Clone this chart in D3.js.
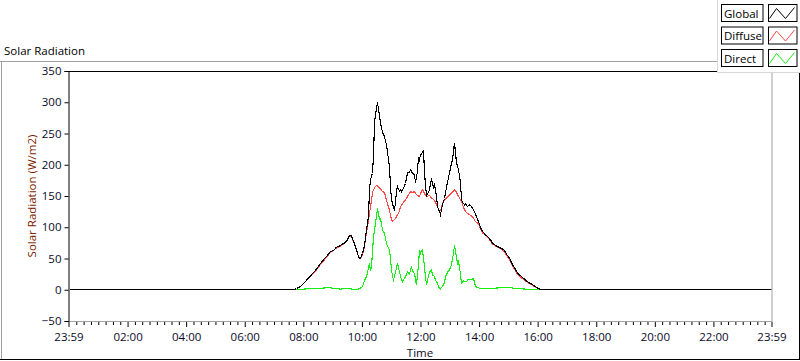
<!DOCTYPE html>
<html><head><meta charset="utf-8">
<script src="https://cdn.jsdelivr.net/npm/d3@7"></script>
<style>
html,body{margin:0;padding:0;background:#fff;}
svg{display:block;}
text{font-family:"Open Sans",sans-serif;}
</style></head>
<body><svg id="c" width="800" height="361"></svg>
<script>
// ---- data ----
const seriesNames = ["Global", "Diffuse", "Direct"];
const yTicks = [-50, 0, 50, 100, 150, 200, 250, 300, 350];
const xTickLabels = ["23:59","02:00","04:00","06:00","08:00","10:00","12:00","14:00","16:00","18:00","20:00","22:00","23:59"];

const globalData = [
 ["00:00",0],["07:38",0],["07:46",2],["07:54",5],["08:04",13],["08:10",19],["08:15",24],["08:21",29],["08:27",35],["08:34",42],["08:42",50],
 ["08:48",55],["08:55",61],["09:01",63],["09:07",68],["09:13",70],["09:19",73],["09:24",75],["09:29",80],["09:33",87],["09:37",86],["09:40",82],
 ["09:46",69],["09:51",53],["09:54",50],["09:57",51],["10:00",58],["10:04",70],["10:07",85],["10:12",117],["10:15",160],["10:16",175],["10:19",182],
 ["10:21",186],["10:22",215],["10:24",266],["10:27",280],["10:29",290],["10:31",300],["10:33",288],["10:35",280],["10:38",266],["10:41",252],["10:45",245],
 ["10:48",238],["10:50",232],["10:52",220],["10:55",197],["10:58",165],["11:00",144],["11:03",132],["11:05",128],["11:08",140],["11:10",158],["11:12",165],
 ["11:15",158],["11:18",160],["11:21",157],["11:25",163],["11:29",170],["11:33",187],["11:36",188],["11:39",192],["11:42",186],["11:46",184],["11:49",171],
 ["11:52",190],["11:54",213],["11:57",208],["12:00",216],["12:03",218],["12:05",224],["12:08",187],["12:10",168],["12:12",150],["12:15",156],["12:17",160],
 ["12:20",170],["12:22",176],["12:25",164],["12:27",168],["12:31",150],["12:34",133],["12:37",125],["12:40",120],["12:43",128],["12:45",136],["12:48",146],
 ["12:51",155],["12:55",172],["12:58",187],["13:01",195],["13:05",208],["13:07",222],["13:09",235],["13:12",203],["13:14",198],["13:16",192],["13:20",171],
 ["13:23",144],["13:26",140],["13:29",136],["13:32",138],["13:36",133],["13:40",136],["13:44",133],["13:49",125],["13:53",117],["13:57",109],["14:02",100],
 ["14:07",93],["14:12",88],["14:17",85],["14:22",80],["14:27",74],["14:32",71],["14:37",69],["14:44",66],["14:51",63],["14:56",57],["15:01",51],["15:06",43],
 ["15:11",35],["15:18",27],["15:25",21],["15:32",17],["15:39",13],["15:46",9],["15:53",6],["16:00",2],["16:06",0],["23:59",0]
];
const diffuseData = [
 ["00:00",0],["07:38",0],["07:46",2],["07:54",5],["08:04",13],["08:10",19],["08:15",23],["08:21",28],["08:27",34],["08:34",41],["08:42",48],
 ["08:48",54],["08:55",60],["09:01",63],["09:07",67],["09:13",69],["09:19",72],["09:24",75],["09:29",80],["09:33",86],["09:37",85],["09:40",81],
 ["09:46",68],["09:51",53],["09:54",50],["09:57",50],["10:00",56],["10:04",68],["10:07",82],["10:10",100],["10:14",122],["10:18",143],["10:21",156],
 ["10:24",163],["10:28",167],["10:31",166],["10:34",163],["10:38",162],["10:41",157],["10:45",156],["10:48",149],["10:52",138],["10:55",127],["10:57",119],
 ["11:00",112],["11:02",109],["11:06",112],["11:10",117],["11:15",126],["11:19",133],["11:25",140],["11:30",146],["11:34",152],["11:39",157],["11:43",156],
 ["11:46",157],["11:51",152],["11:56",149],["12:00",154],["12:04",160],["12:08",154],["12:12",149],["12:17",151],["12:22",147],["12:27",143],["12:32",136],
 ["12:37",125],["12:41",130],["12:45",139],["12:51",145],["12:58",152],["13:04",156],["13:08",160],["13:12",156],["13:15",152],["13:19",147],["13:22",141],
 ["13:27",132],["13:32",125],["13:38",121],["13:45",117],["13:51",109],["13:57",106],["14:02",98],["14:07",91],["14:12",87],["14:17",84],["14:22",78],
 ["14:27",73],["14:32",70],["14:37",68],["14:44",65],["14:51",61],["14:56",55],["15:01",48],["15:06",41],["15:11",33],["15:18",25],["15:25",19],
 ["15:32",15],["15:39",12],["15:46",8],["15:53",5],["16:00",2],["16:06",0],["23:59",0]
];
const directData = [
 ["00:00",0],["07:40",0],["07:50",1],["08:00",1],["08:15",2],["08:30",2],["08:45",3],["08:55",3],["09:05",2],["09:15",1],["09:30",2],["09:40",1],
 ["09:50",0],["10:00",5],["10:03",10],["10:06",18],["10:09",21],["10:12",35],["10:14",42],["10:17",30],["10:19",37],["10:21",60],["10:23",85],
 ["10:26",106],["10:28",118],["10:31",130],["10:34",112],["10:36",118],["10:39",106],["10:42",95],["10:45",90],["10:47",82],["10:49",74],["10:52",70],
 ["10:55",64],["10:57",48],["11:00",32],["11:02",22],["11:04",16],["11:07",28],["11:11",42],["11:14",35],["11:16",29],["11:19",21],["11:22",13],
 ["11:26",18],["11:29",21],["11:33",29],["11:36",25],["11:40",37],["11:43",30],["11:46",26],["11:49",16],["11:51",8],["11:54",40],["11:57",64],
 ["12:00",58],["12:02",62],["12:04",64],["12:06",50],["12:08",37],["12:10",20],["12:12",8],["12:15",22],["12:18",28],["12:21",32],["12:24",24],
 ["12:27",21],["12:30",15],["12:33",10],["12:36",5],["12:40",1],["12:43",4],["12:45",5],["12:48",12],["12:51",21],["12:55",28],["12:58",32],
 ["13:02",40],["13:05",50],["13:07",58],["13:09",72],["13:12",52],["13:14",42],["13:17",45],["13:19",37],["13:22",10],["13:27",14],["13:33",13],
 ["13:38",17],["13:43",16],["13:48",18],["13:51",5],["13:57",3],["14:03",2],["14:20",2],["14:40",3],["14:54",4],["15:05",3],["15:15",2],
 ["15:35",1],["15:56",1],["16:10",0],["23:59",0]
];

// ---- helpers ----
const toMin = s => { const p = s.split(":"); return (+p[0]) * 60 + (+p[1]); };

const svg = d3.select("#c");
const L = 68.5, R = 771.5, T = 71, B = 321;
const x = d3.scaleLinear().domain([-1, 1439]).range([L, R]);
const y = d3.scaleLinear().domain([-50, 350]).range([B, T]);

// outer frame
svg.append("rect").attr("x",0).attr("y",0).attr("width",800).attr("height",361).attr("fill","#fff");
svg.append("line").attr("x1",0).attr("x2",717).attr("y1",61.5).attr("y2",61.5).attr("stroke","#a0a0a0");
svg.append("line").attr("x1",1.5).attr("x2",1.5).attr("y1",61.5).attr("y2",360).attr("stroke","#a0a0a0");
svg.append("line").attr("x1",0).attr("x2",800).attr("y1",359.5).attr("y2",359.5).attr("stroke","#000");
svg.append("line").attr("x1",799.5).attr("x2",799.5).attr("y1",72).attr("y2",360).attr("stroke","#000");

svg.append("text").attr("x",4).attr("y",55).attr("font-size",11.5).attr("fill","#000").text("Solar Radiation");

// plot area
svg.append("clipPath").attr("id","pc").append("rect")
  .attr("x",L).attr("y",T).attr("width",R-L).attr("height",B-T);

const line = d3.line().x(d => Math.round(x(toMin(d[0]))) + 0.5).y(d => y(d[1]));
const g = svg.append("g").attr("clip-path","url(#pc)");
const drawSeries = (data, color) => g.append("path").datum(data).attr("d",line)
  .attr("fill","none").attr("stroke",color).attr("stroke-width",1.1).attr("shape-rendering","crispEdges");
drawSeries(directData, "#14f014");
drawSeries(diffuseData, "#ff4848");
drawSeries(globalData, "#000");

// plot border: right/bottom gray, left/top black
svg.append("line").attr("x1",R+0.5).attr("x2",R+0.5).attr("y1",T).attr("y2",B).attr("stroke","#a0a0a0");
svg.append("line").attr("x1",L).attr("x2",R+1).attr("y1",B+0.5).attr("y2",B+0.5).attr("stroke","#a0a0a0");
svg.append("line").attr("x1",L).attr("x2",R+1).attr("y1",T+0.5).attr("y2",T+0.5).attr("stroke","#000");

// y axis
const yAxis = d3.axisLeft(y).tickValues(yTicks).tickSize(4).tickPadding(3).tickFormat(d3.format("d"));
const ya = svg.append("g").attr("transform",`translate(${L},0)`).call(yAxis);
ya.select(".domain").attr("stroke","#000");
ya.selectAll(".tick line").attr("stroke","#000");
ya.selectAll("text").attr("font-size",11.5).attr("fill","#0a0a28").attr("font-family","Open Sans");

// x axis: major
const majorVals = [-1,120,240,360,480,600,720,840,960,1080,1200,1320,1439];
const xAxis = d3.axisBottom(x).tickValues(majorVals).tickSize(5).tickPadding(6)
  .tickFormat((d,i) => xTickLabels[i]);
const xa = svg.append("g").attr("transform",`translate(0,${B+1})`).call(xAxis);
xa.select(".domain").remove();
xa.selectAll(".tick line").attr("stroke","#000");
xa.selectAll("text").attr("font-size",11.5).attr("fill","#0a0a28").attr("font-family","Open Sans");
// minor ticks
const minorVals = d3.range(15, 1440, 15).filter(v => v % 120 !== 0);
const xm = svg.append("g").attr("transform",`translate(0,${B+1})`)
  .call(d3.axisBottom(x).tickValues(minorVals).tickSize(3).tickFormat(""));
xm.select(".domain").remove();
xm.selectAll(".tick line").attr("stroke","#000");

// axis titles
svg.append("text").attr("x",(L+R)/2).attr("y",357).attr("text-anchor","middle")
  .attr("font-size",11.5).attr("fill","#0a0a28").text("Time");
svg.append("text").attr("transform",`translate(36,${(T+B)/2}) rotate(-90)`).attr("text-anchor","middle")
  .attr("font-size",11.5).attr("fill","#7a1e00").text("Solar Radiation (W/m2)");

// legend
svg.append("rect").attr("x",717).attr("y",0).attr("width",83).attr("height",72).attr("fill","#fff");
svg.append("line").attr("x1",717.5).attr("x2",717.5).attr("y1",0).attr("y2",72).attr("stroke","#d8d8d8");
svg.append("line").attr("x1",717).attr("x2",800).attr("y1",72.5).attr("y2",72.5).attr("stroke","#d8d8d8");
const legColors = ["#000", "#ff4848", "#14f014"];
seriesNames.forEach((n,i) => {
  const top = 4.5 + i*22.5;
  svg.append("rect").attr("x",721.5).attr("y",top).attr("width",41.5).attr("height",17).attr("fill","#fff").attr("stroke","#000");
  svg.append("text").attr("x",724).attr("y",top+13).attr("font-size",11.5).attr("fill","#000").text(n);
  svg.append("rect").attr("x",768.5).attr("y",top).attr("width",28.5).attr("height",17).attr("fill","#fff").attr("stroke","#000");
  const zz = [[1,14],[8,4],[17,14],[26,3]].map(p => [768.5+p[0], top+p[1]]);
  svg.append("path").attr("d", d3.line()(zz)).attr("fill","none").attr("stroke",legColors[i]).attr("stroke-width",1);
});
</script>
</body></html>
